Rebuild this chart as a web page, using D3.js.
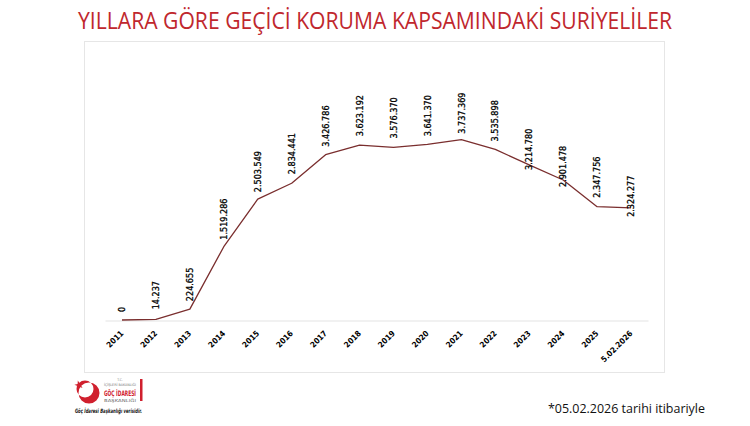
<!DOCTYPE html>
<html>
<head>
<meta charset="utf-8">
<script src="https://cdn.jsdelivr.net/npm/d3@7"></script>
<style>
  html, body { margin: 0; padding: 0; background: #fff; }
  svg { display: block; }
</style>
</head>
<body>
<svg id="chart" width="750" height="426"></svg>
<script>
// ---- data ----
const categories = ["2011","2012","2013","2014","2015","2016","2017","2018","2019","2020","2021","2022","2023","2024","2025","5.02.2026"];
const values = [0, 14237, 224655, 1519286, 2503549, 2834441, 3426786, 3623192, 3576370, 3641370, 3737369, 3535898, 3214780, 2901478, 2347756, 2324277];
const titleText = "YILLARA GÖRE GEÇİCİ KORUMA KAPSAMINDAKİ SURİYELİLER";
const footnoteText = "*05.02.2026 tarihi itibariyle";
const sourceText = "Göç İdaresi Başkanlığı verisidir.";

// label gap above point (px); negative = label sits lower, overlapping line
const labelGap = [8, 10, 8, 7, 7, 9, 8, 9, 9, 8, 6, 8, -5, -7, 9, -9];

const svg = d3.select("#chart");
const fmt = v => d3.format(",")(v).replace(/,/g, ".");

// frame
svg.append("rect").attr("x", 84.5).attr("y", 41.5).attr("width", 580).attr("height", 331)
  .attr("fill", "#fff").attr("stroke", "#e6e6e6").attr("stroke-width", 1);

// title
svg.append("text").attr("x", 375).attr("y", 29).attr("text-anchor", "middle")
  .attr("font-family", "'Liberation Sans Narrow', 'Open Sans', sans-serif")
  .attr("font-size", 23).attr("fill", "#c0272d")
  .attr("textLength", 594).attr("lengthAdjust", "spacingAndGlyphs")
  .text(titleText);

// scales
const x = d3.scaleBand().domain(categories).range([105, 648]);
const y = d3.scaleLinear().domain([0, 4000000]).range([320, 127]);
const cx = d => x(d) + x.bandwidth() / 2;

// x axis
const xAxis = d3.axisBottom(x).tickSize(0).tickFormat("");
const gx = svg.append("g").attr("transform", "translate(0,320.5)").call(xAxis);
gx.select(".domain").attr("stroke", "#e3e3e3").attr("stroke-width", 1);

svg.append("g").selectAll("text").data(categories).join("text")
  .attr("transform", d => `translate(${cx(d) + 2},334) rotate(-45)`)
  .attr("text-anchor", "end")
  .attr("font-family", "'DejaVu Sans Condensed', 'DejaVu Sans', sans-serif")
  .attr("font-weight", "bold").attr("font-size", 8)
  .attr("fill", "#000")
  .text(d => d);

// line
const line = d3.line().x((d, i) => cx(categories[i])).y(d => y(d));
svg.append("path").datum(values).attr("d", line)
  .attr("fill", "none").attr("stroke", "#7a2e2e").attr("stroke-width", 1.3)
  .attr("stroke-linejoin", "round");

// data labels
svg.append("g").selectAll("text").data(values).join("text")
  .attr("transform", (d, i) => `translate(${cx(categories[i])},${y(d) - labelGap[i]}) rotate(-90)`)
  .attr("dy", "0.35em")
  .attr("text-anchor", "start")
  .attr("font-family", "'DejaVu Sans Condensed', 'DejaVu Sans', sans-serif")
  .attr("font-size", 9).attr("fill", "#000")
  .attr("stroke", "#000").attr("stroke-width", 0.3)
  .text(d => fmt(d));

// footnote
svg.append("text").attr("x", 548).attr("y", 413)
  .attr("font-family", "'Liberation Sans Narrow', 'Open Sans', sans-serif")
  .attr("font-size", 12.5).attr("fill", "#111")
  .attr("textLength", 157).attr("lengthAdjust", "spacingAndGlyphs")
  .text(footnoteText);

// logo
const logo = svg.append("g");
logo.append("path")
  .attr("d", (() => {
    const p = d3.path();
    p.moveTo(89 + 10.5, 393);
    p.arc(89, 393, 10.5, 0, 2 * Math.PI);
    p.moveTo(85 + 8.5, 389);
    p.arc(85, 389, 8.5, 0, 2 * Math.PI);
    return p.toString();
  })())
  .attr("fill", "#d0202e").attr("fill-rule", "evenodd");
const star = d3.symbol().type(d3.symbolStar).size(24);
logo.append("path").attr("d", star()).attr("transform", "translate(79,385) rotate(-15)").attr("fill", "#d0202e");
const tx = 120;
logo.append("text").attr("x", tx).attr("y", 381).attr("text-anchor", "middle")
  .attr("font-family", "'DejaVu Sans Condensed', sans-serif").attr("font-size", 3.5).attr("fill", "#888").text("T.C.");
logo.append("text").attr("x", tx).attr("y", 386).attr("text-anchor", "middle")
  .attr("font-family", "'DejaVu Sans Condensed', sans-serif").attr("font-size", 3.5).attr("fill", "#777")
  .attr("textLength", 32).attr("lengthAdjust", "spacingAndGlyphs").text("İÇİŞLERİ BAKANLIĞI");
logo.append("text").attr("x", tx).attr("y", 395.5).attr("text-anchor", "middle")
  .attr("font-family", "'DejaVu Sans Condensed', sans-serif").attr("font-size", 7.5).attr("font-weight", "bold").attr("fill", "#d0202e")
  .attr("textLength", 32).attr("lengthAdjust", "spacingAndGlyphs").text("GÖÇ İDARESİ");
logo.append("text").attr("x", tx).attr("y", 401.5).attr("text-anchor", "middle")
  .attr("font-family", "'DejaVu Sans Condensed', sans-serif").attr("font-size", 4).attr("fill", "#666")
  .attr("textLength", 32).attr("lengthAdjust", "spacingAndGlyphs").text("BAŞKANLIĞI");
logo.append("rect").attr("x", 140).attr("y", 379).attr("width", 2.5).attr("height", 22).attr("fill", "#d0202e");
logo.append("text").attr("x", 75).attr("y", 413)
  .attr("font-family", "'DejaVu Sans Condensed', sans-serif").attr("font-size", 6).attr("font-style", "italic")
  .attr("font-weight", "bold")
  .attr("fill", "#111").attr("textLength", 67).attr("lengthAdjust", "spacingAndGlyphs").text(sourceText);
</script>
</body>
</html>
